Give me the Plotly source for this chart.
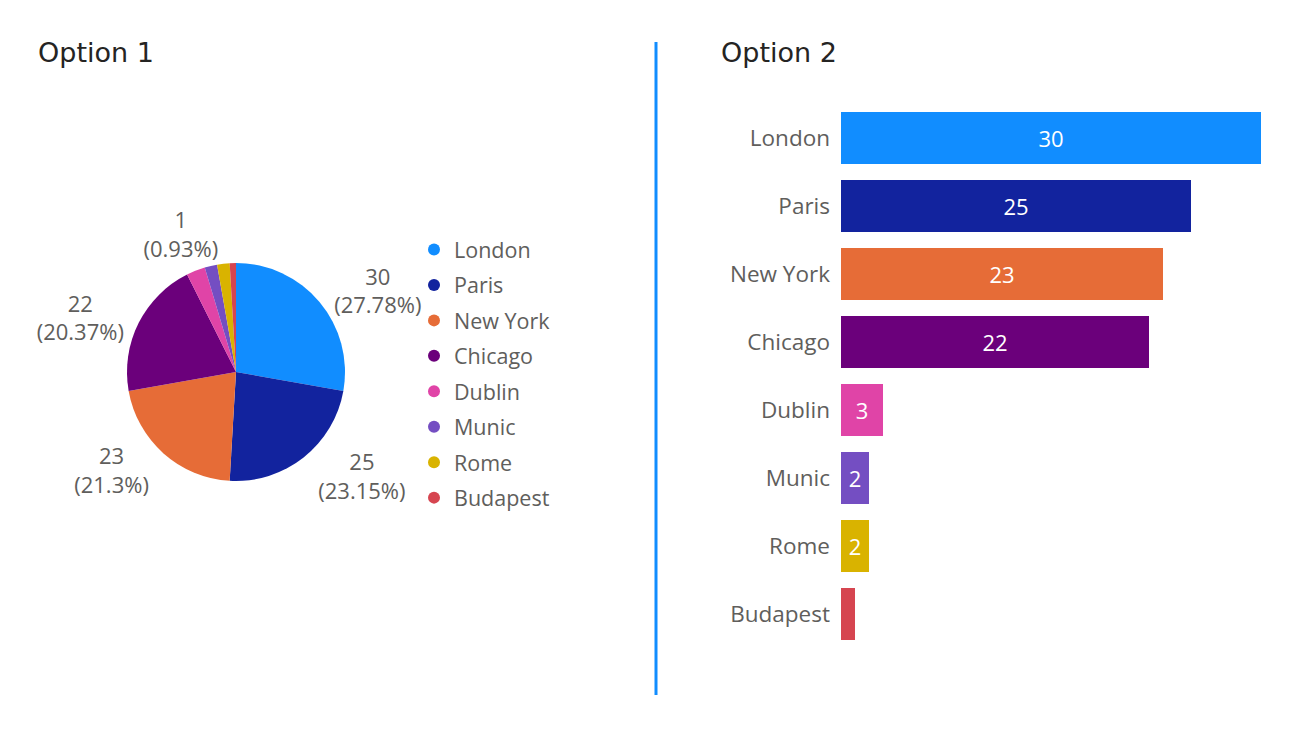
import plotly.graph_objects as go

cities = ["London", "Paris", "New York", "Chicago", "Dublin", "Munic", "Rome", "Budapest"]
values = [30, 25, 23, 22, 3, 2, 2, 1]
colors = ["#118DFF", "#12239E", "#E66C37", "#6B007B", "#E044A7", "#744EC2", "#D9B300", "#D64550"]
pie_labels_shown = [True, True, True, True, False, False, False, True]
bar_labels_shown = [True, True, True, True, True, True, True, False]

W, H = 1315, 739
def px(x): return x / W
def py(y): return 1 - y / H

FONT = "Open Sans"
GRAY = "#605E5C"

fig = go.Figure()

pie_tt = ["%{value}<br>(%{percent:.2~%})" if s else "" for s in pie_labels_shown]
cx, cy, r = 236, 372, 109
fig.add_trace(go.Pie(
    labels=cities, values=values, sort=False, direction="clockwise", rotation=0,
    marker=dict(colors=colors, line=dict(width=0)),
    texttemplate=pie_tt, textposition="outside",
    outsidetextfont=dict(family=FONT, size=22, color=GRAY),
    domain=dict(x=[px(cx - r), px(cx + r)], y=[py(cy + r), py(cy - r)]),
    showlegend=False, hoverinfo="label+value+percent",
))

bar_tt = ["%{x}" if s else "" for s in bar_labels_shown]
fig.add_trace(go.Bar(
    x=values, y=cities, orientation="h",
    marker=dict(color=colors, line=dict(width=0)),
    texttemplate=bar_tt, textposition="inside", insidetextanchor="middle",
    insidetextfont=dict(family=FONT, size=22, color="white"),
    showlegend=False, cliponaxis=False, textangle=0,
))

for c, col in zip(cities, colors):
    fig.add_trace(go.Scatter(
        x=[None], y=[None], mode="markers", name=c, legendgroup=c,
        marker=dict(color=col, size=12, symbol="circle"),
        showlegend=True,
    ))

fig.update_layout(
    width=W, height=H,
    margin=dict(l=0, r=0, t=0, b=0, autoexpand=False),
    paper_bgcolor="white", plot_bgcolor="white",
    font=dict(family=FONT, color=GRAY),
    bargap=16 / 68,
    xaxis=dict(domain=[px(841), px(1261)], range=[0, 30], visible=False,
               fixedrange=True, automargin=False),
    yaxis=dict(domain=[py(648), py(104)], autorange="reversed", showgrid=False,
               showline=False, ticks="", ticklabelstandoff=10, automargin=False,
               tickfont=dict(family=FONT, size=22.5, color=GRAY)),
    legend=dict(x=px(414), y=py(229), xanchor="left", yanchor="top",
                font=dict(family=FONT, size=21.5, color=GRAY),
                tracegroupgap=4.5, itemwidth=30, bgcolor="rgba(0,0,0,0)"),
    shapes=[dict(type="line", xref="paper", yref="paper",
                 x0=px(656), x1=px(656), y0=py(42), y1=py(695),
                 line=dict(color="#118DFF", width=3))],
    annotations=[
        dict(text="Option 1", xref="paper", yref="paper", x=px(36), y=py(52),
             xanchor="left", yanchor="middle", showarrow=False,
             font=dict(family="DejaVu Sans", size=27, color="#252423")),
        dict(text="Option 2", xref="paper", yref="paper", x=px(719), y=py(52),
             xanchor="left", yanchor="middle", showarrow=False,
             font=dict(family="DejaVu Sans", size=27, color="#252423")),
    ],
)

fig.write_html("out.html", config={"displayModeBar": False},
               post_script="document.body.style.margin='0';")
